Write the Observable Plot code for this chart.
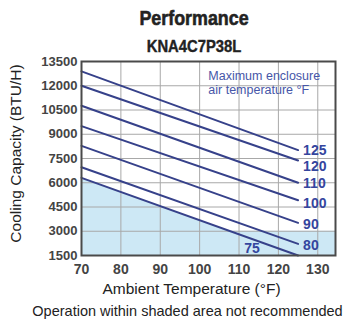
<!DOCTYPE html>
<html><head><meta charset="utf-8">
<script src="https://cdn.jsdelivr.net/npm/d3@7"></script>
<script src="https://cdn.jsdelivr.net/npm/@observablehq/plot@0.6"></script>
<style>
body{margin:0;background:#fff;}
#wrap{position:relative;width:352px;height:323px;overflow:hidden;font-family:"Liberation Sans",Arial,sans-serif;}
.t{position:absolute;white-space:nowrap;line-height:1;}
#title{font-weight:bold;font-size:21px;left:193.8px;top:7.2px;color:#222;-webkit-text-stroke:0.6px #222;transform:translateX(-50%) scaleX(0.85);}
#sub{font-weight:bold;font-size:17px;left:194.3px;top:38px;color:#222;-webkit-text-stroke:0.4px #222;transform:translateX(-50%) scaleX(0.87);}
#cap{font-size:14.5px;left:187.5px;top:303.7px;color:#222;transform:translateX(-50%);}
#chart{position:absolute;left:0;top:0;}
</style></head>
<body>
<div id="wrap">
<div id="chart"></div>
<div class="t" id="title">Performance</div>
<div class="t" id="sub">KNA4C7P38L</div>
<div class="t" id="cap">Operation within shaded area not recommended</div>
</div>
<script>
// Maximum enclosure air temperature (°F) for each line
const temps = [75, 80, 90, 100, 110, 120, 125];
// Cooling capacity (BTU/H) at ambient 70°F and 125°F
const startX = 70;
const endX = 125;
const capAt70 = [6300, 6960, 8280, 9500, 10760, 12000, 12890];
const capAt125 = [1500, 2220, 3520, 4920, 6000, 7380, 8020];
// where each temperature label sits
const labelX = [113.3, 125, 125, 125, 125, 125, 125];
const labelY = [1920, 2100, 3390, 4740, 5940, 7020, 8020];
// shaded (not recommended) region boundary
const shadeX = [70, 107.8, 134.5];
const shadeY = [6300, 3000, 3000];
const xTicks = [70, 80, 90, 100, 110, 120, 130];
const yTicks = [1500, 3000, 4500, 6000, 7500, 9000, 10500, 12000, 13500];
const xDomain = [70, 134.5];
const yDomain = [1500, 13500];

const rows = [];
temps.forEach((t, i) => {
  rows.push({t, x: startX, y: capAt70[i]});
  rows.push({t, x: endX, y: capAt125[i]});
});
const shade = shadeX.map((x, i) => ({x, y: shadeY[i]}));
const labels = temps.map((t, i) => ({t, x: labelX[i], y: labelY[i], first: i === 0}));

const lineColor = "#36418a";
const labelColor = "#34459e";

const chart = Plot.plot({
  width: 352,
  height: 300,
  marginTop: 61,
  marginBottom: 45,
  marginLeft: 81,
  marginRight: 17,
  style: {fontFamily: "'Liberation Sans', Arial, sans-serif", background: "transparent"},
  x: {domain: xDomain, label: null},
  y: {domain: yDomain, label: null},
  marks: [
    Plot.areaY(shade, {x: "x", y1: yDomain[0], y2: "y", fill: "#cde8f5"}),
    Plot.ruleX(xTicks, {stroke: "#a8a8a8", strokeWidth: 1}),
    Plot.ruleY(yTicks, {stroke: "#a8a8a8", strokeWidth: 1}),
    Plot.line(rows, {x: "x", y: "y", z: "t", stroke: lineColor, strokeWidth: 2}),
    Plot.frame({stroke: "#4a4a4a", strokeWidth: 2}),
    Plot.text(labels.filter(d => !d.first), {x: "x", y: "y", text: d => String(d.t), textAnchor: "start", dx: 5, fill: labelColor, fontWeight: "bold", fontSize: 14}),
    Plot.text(labels.filter(d => d.first), {x: "x", y: "y", text: d => String(d.t), textAnchor: "middle", fill: labelColor, fontWeight: "bold", fontSize: 14}),
    Plot.text(["Maximum enclosure"], {x: 102.2, y: 12630, text: d => d, textAnchor: "start", fill: "#4656a8", fontSize: 12.5}),
    Plot.text(["air temperature °F"], {x: 102.2, y: 11730, text: d => d, textAnchor: "start", fill: "#4656a8", fontSize: 12.5}),
    Plot.axisY({ticks: yTicks, tickFormat: d => String(d), tickSize: 0, tickPadding: 4, fontWeight: "bold", fontSize: 13, fill: "#444", label: null}),
    Plot.axisX({ticks: xTicks, tickFormat: d => String(d), tickSize: 0, tickPadding: 9, fontWeight: "bold", fontSize: 14, fill: "#444", label: null}),
    Plot.text(["Cooling Capacity (BTU/H)"], {frameAnchor: "left", textAnchor: "middle", text: d => d, rotate: -90, dx: -65.5, dy: -5, fontSize: 15.5, fill: "#222"}),
    Plot.text(["Ambient Temperature (°F)"], {frameAnchor: "bottom", textAnchor: "middle", text: d => d, dx: -17, dy: 38, fontSize: 15.5, fill: "#222"})
  ]
});
document.getElementById("chart").appendChild(chart);
</script>
</body></html>
